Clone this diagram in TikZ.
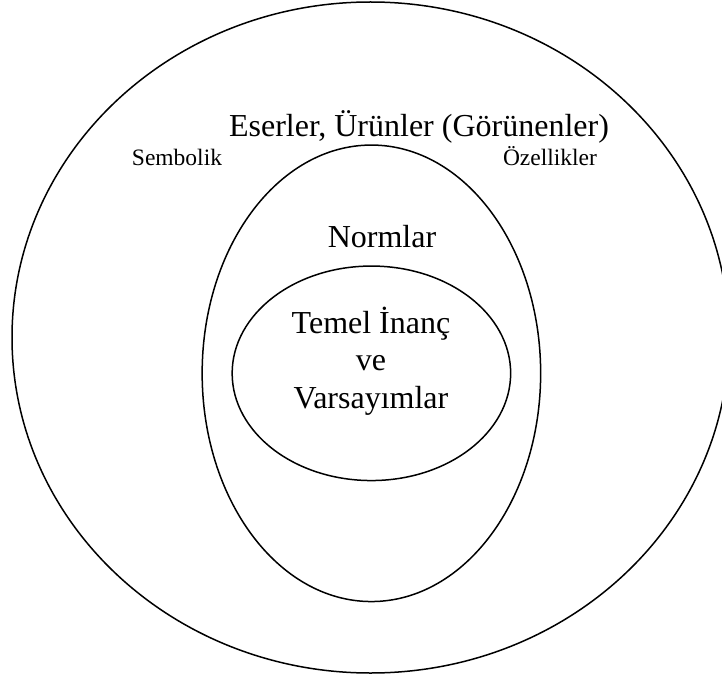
\documentclass[tikz,border=0pt]{standalone}
\usepackage{fontspec}
\setmainfont{Liberation Serif}
\usetikzlibrary{shapes.geometric}
\begin{document}
\begin{tikzpicture}[x=1pt,y=-1pt,
  ring/.style={draw, ellipse, line width=1.5pt, inner sep=0pt},
  bigtext/.style={font=\fontsize{32}{37.5}\selectfont, inner sep=0pt, anchor=base},
  smalltext/.style={font=\fontsize{23.5}{28}\selectfont, inner sep=0pt, anchor=base}]
  \useasboundingbox (0,0) rectangle (722,679);
  % nested layers (the outer ring runs past the right edge)
  \node[ring, minimum width=717pt, minimum height=671pt] (outer) at (370.5,337.5) {};
  \node[ring, minimum width=338.5pt, minimum height=456.5pt] (middle) at (371.4,373.3) {};
  \node[ring, minimum width=278.5pt, minimum height=214.5pt] (inner) at (371.4,373.3) {};
  % labels
  \node[bigtext] (artifacts) at (419,137) {Eserler, Ürünler (Görünenler)};
  \node[smalltext] (symbolic) at (177,166) {Sembolik};
  \node[smalltext] (features) at (550,166) {Özellikler};
  \node[bigtext] (norms) at (382,247) {Normlar};
  \node[font=\fontsize{32}{37.5}\selectfont, inner sep=0pt, align=center] (beliefs) at (371,361)
    {Temel İnanç\\ve\\Varsayımlar};
\end{tikzpicture}
\end{document}
